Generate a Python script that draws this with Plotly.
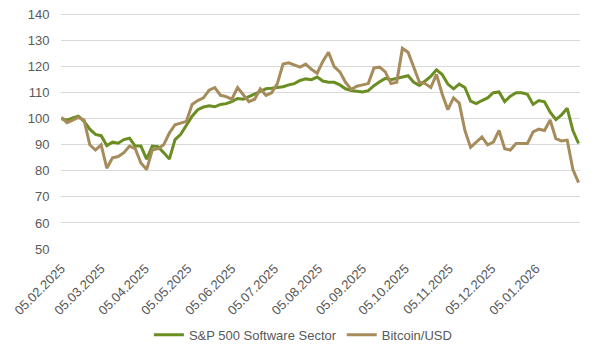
import pandas as pd
import plotly.graph_objects as go

# Sampling dates (every 4 days from 05.02.2025)
dates = pd.date_range("2025-02-05", periods=92, freq="4D")

software = [
    100, 99.5, 100.3, 101, 99, 96, 94, 93.5, 89.7, 91,
    90.6, 92, 92.5, 89.5, 89.5, 84.5, 89.5, 89.3, 87, 84.5,
    92, 94, 97.5, 101, 103.5, 104.5, 105, 104.6, 105.5, 105.8,
    106.6, 107.8, 107.5, 108.5, 109.7, 110.5, 111.5, 111.7, 112, 112.3,
    113, 113.5, 114.7, 115.3, 115, 116, 114.5, 114, 114, 113,
    111.5, 110.8, 110.6, 110.3, 110.8, 112.7, 114.2, 115.5, 115, 115.5,
    116.2, 116.5, 114, 112.8, 114.5, 116.3, 118.8, 117, 113.3, 111.5,
    113.3, 112, 106.8, 105.8, 107, 108, 110, 110.3, 106.6, 108.7,
    110, 110, 109.4, 105.5, 107, 106.5, 102.5, 99.7, 101.5, 104,
    95.5, 90.5,
]

bitcoin = [
    100.5, 98.5, 99.5, 100.5, 99.5, 90, 88, 90, 81, 85,
    85.5, 87, 89.5, 88.5, 83, 80.5, 88, 88.5, 90, 94.5,
    97.7, 98.5, 99, 105.5, 107, 108, 111, 112, 109, 108.5,
    107.5, 112, 109.5, 106.6, 107.5, 111.5, 109, 110, 113.5, 121,
    121.5, 120.8, 119.8, 121, 119, 117.5, 122, 125.5, 120, 118,
    114, 111.3, 112.5, 113, 113.5, 119.5, 119.8, 118, 113.5, 114,
    127, 125.5, 120, 114, 113.5, 112, 117, 109.5, 103.5, 108,
    106, 95.5, 89, 91, 93, 90, 91, 95.5, 88.5, 88,
    90.5, 90.5, 90.5, 95, 96, 95.5, 99.5, 92.4, 91.5, 91.8,
    80.5, 75.5,
]

tick_dates = pd.date_range("2025-02-01", "2026-01-01", freq="MS") + pd.Timedelta(days=4)
tick_text = [d.strftime("%d.%m.%Y") for d in tick_dates]

GREEN = "#6b8e23"
TAN = "#a68b5b"
FONT = "Liberation Sans, Arial, sans-serif"

fig = go.Figure()
fig.add_trace(go.Scatter(x=dates, y=software, mode="lines", name="S&P 500 Software Sector",
                         line=dict(color=GREEN, width=3)))
fig.add_trace(go.Scatter(x=dates, y=bitcoin, mode="lines", name="Bitcoin/USD",
                         line=dict(color=TAN, width=3)))

# page body has an 8px margin, so the figure is 8px smaller and margins shifted
fig.update_layout(
    width=597, height=347,
    margin=dict(l=53, r=25, t=5.44, b=106, autoexpand=False),
    paper_bgcolor="white", plot_bgcolor="white",
    font=dict(family=FONT, size=13, color="#595959"),
    showlegend=True,
    legend=dict(orientation="h", xref="container", yref="container",
                x=0.494, xanchor="center", y=0.058, yanchor="middle",
                font=dict(size=13, color="#595959"), itemwidth=30,
                bgcolor="rgba(0,0,0,0)"),
    xaxis=dict(type="date", range=["2025-02-04 18:00", "2026-02-05"],
               tickvals=list(tick_dates), ticktext=tick_text, tickangle=-45,
               showgrid=False, zeroline=False, showline=False, automargin=False,
               ticklabeloverflow="allow",
               ticks="outside", ticklen=6, tickcolor="rgba(0,0,0,0)",
               tickfont=dict(size=13, color="#595959")),
    yaxis=dict(range=[50, 140.6], dtick=10, tick0=50, automargin=False,
               ticklabeloverflow="allow",
               showgrid=True, gridcolor="#d9d9d9", gridwidth=1,
               zeroline=False, showline=False,
               ticks="outside", ticklen=8, tickcolor="rgba(0,0,0,0)",
               tickfont=dict(size=13, color="#595959")),
)

fig.write_html("out.html")
